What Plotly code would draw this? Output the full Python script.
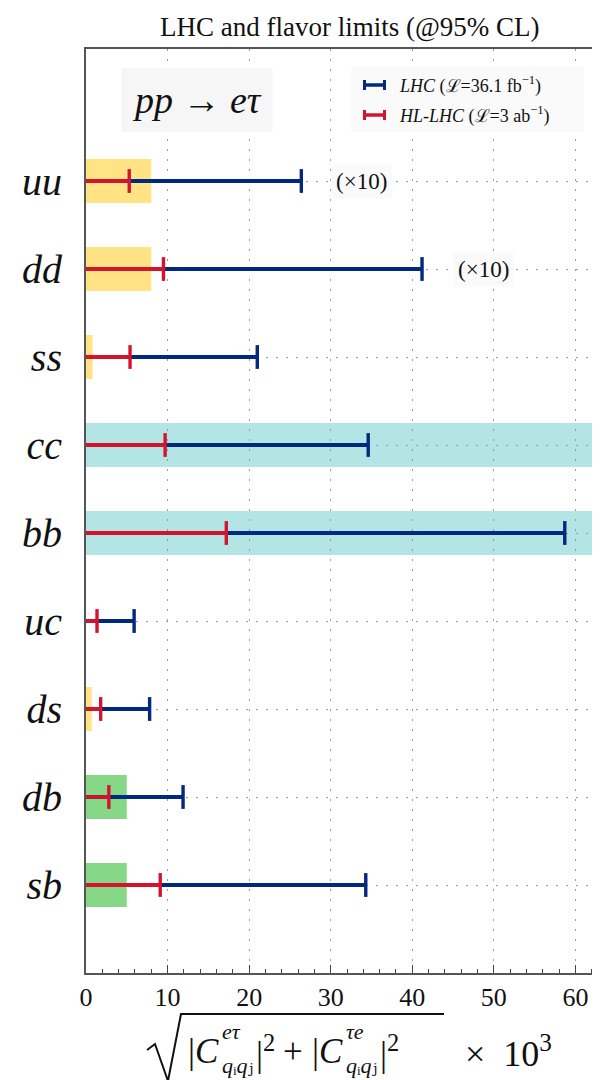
import plotly.graph_objects as go

# ---------------- data ----------------
categories = ["uu", "dd", "ss", "cc", "bb", "uc", "ds", "db", "sb"]
positions = [9, 8, 7, 6, 5, 4, 3, 2, 1]
lhc_limits = [26.4, 41.2, 21.0, 34.6, 58.7, 5.9, 7.8, 11.9, 34.3]
hllhc_limits = [5.3, 9.5, 5.4, 9.7, 17.2, 1.35, 1.8, 2.8, 9.1]
flavor_limits = [8.0, 8.0, 0.8, 70.0, 70.0, 0.0, 0.7, 5.0, 5.0]
flavor_kind = ["y", "y", "y", "c", "c", "none", "y", "g", "g"]
scaled_note = ["(×10)", "(×10)", "", "", "", "", "", "", ""]
note_x = [33.8, 48.7, None, None, None, None, None, None, None]
x_ticks = [0, 10, 20, 30, 40, 50, 60]

BLUE = "#00297F"
RED = "#D3142E"
BAND = {"y": "#FFE384", "c": "#B3E5E4", "g": "#86D886"}
SERIF = "Liberation Serif, DejaVu Serif, serif"
INK = "#111111"

# plot area in pixels
L, R, T, B = 78, 600, 41, 965
def px(x):
    return (x - L) / (R - L)
def py(y):
    return (B - y) / (B - T)

fig = go.Figure()

def seg_xy(vals):
    xs, ys = [], []
    for v, p in zip(vals, positions):
        xs += [0, v, None]
        ys += [p, p, None]
    return xs, ys

bx, by = seg_xy(lhc_limits)
fig.add_trace(go.Scatter(x=bx, y=by, mode="lines", line=dict(color=BLUE, width=3.8),
                         showlegend=False, hoverinfo="skip"))
fig.add_trace(go.Scatter(x=lhc_limits, y=positions, mode="markers",
                         marker=dict(symbol="line-ns", size=17, line=dict(color=BLUE, width=3.4)),
                         showlegend=False, hoverinfo="skip"))
rx, ry = seg_xy(hllhc_limits)
fig.add_trace(go.Scatter(x=rx, y=ry, mode="lines", line=dict(color=RED, width=3.8),
                         showlegend=False, hoverinfo="skip"))
fig.add_trace(go.Scatter(x=hllhc_limits, y=positions, mode="markers",
                         marker=dict(symbol="line-ns", size=17, line=dict(color=RED, width=3.4)),
                         showlegend=False, hoverinfo="skip"))

shapes = []
for v, p, k in zip(flavor_limits, positions, flavor_kind):
    if k == "none" or v <= 0:
        continue
    shapes.append(dict(type="rect", xref="x", yref="y", x0=0, x1=v, y0=p - 0.25, y1=p + 0.25,
                       fillcolor=BAND[k], line=dict(width=0), layer="below"))

annotations = []
for n, xv, p in zip(scaled_note, note_x, positions):
    if n:
        annotations.append(dict(x=xv, y=p, xref="x", yref="y", text=n, showarrow=False,
                                xanchor="center", yanchor="middle",
                                font=dict(family=SERIF, size=23, color=INK),
                                bgcolor="#FAFAFA", borderpad=4))

def ann(x, y, text, size, xanchor="left", **kw):
    d = dict(x=px(x), y=py(y), xref="paper", yref="paper", text=text, showarrow=False,
             xanchor=xanchor, yanchor="middle", font=dict(family=SERIF, size=size, color=INK))
    d.update(kw)
    annotations.append(d)

# title
ann(342, 19, "LHC and flavor limits (@95% CL)", 27, xanchor="center")

# process label box
ann(189, 92, "<i>pp</i> → <i>eτ</i>", 38, xanchor="center", bgcolor="#F6F6F6", borderpad=10)

# manual legend
shapes.append(dict(type="rect", xref="paper", yref="paper", x0=px(343), x1=px(576),
                   y0=py(124), y1=py(59), fillcolor="#FAFAFA", line=dict(width=0), layer="above"))
for yy, col in [(77, BLUE), (107, RED)]:
    shapes.append(dict(type="line", xref="paper", yref="paper", x0=px(355), x1=px(378),
                       y0=py(yy), y1=py(yy), line=dict(color=col, width=3.5), layer="above"))
    for xx in (356.5, 376.5):
        shapes.append(dict(type="line", xref="paper", yref="paper", x0=px(xx), x1=px(xx),
                           y0=py(yy - 5), y1=py(yy + 5), line=dict(color=col, width=3), layer="above"))
ann(389, 77, "<i>LHC</i> (ℒ=36.1 fb<sup>−1</sup>)", 18)
ann(389, 107, "<i>HL-LHC</i> (ℒ=3 ab<sup>−1</sup>)", 18)

# x-axis label: sqrt(|C^{eτ}_{qiqj}|^2 + |C^{τe}_{qiqj}|^2) x 10^3
MAIN, SCR = 35, 22
yb, ysup, ysub = 1043, 1023, 1057
ann(178, yb, "|<i>C</i>", MAIN)
ann(212, ysup, "<i>eτ</i>", SCR)
ann(212, ysub, "<i>q</i>ᵢ<i>q</i>ⱼ", SCR)
ann(246, yb, "|<sup>2</sup>", MAIN)
ann(273, yb, "+", MAIN)
ann(302, yb, "|<i>C</i>", MAIN)
ann(336, ysup, "<i>τe</i>", SCR)
ann(336, ysub, "<i>q</i>ᵢ<i>q</i>ⱼ", SCR)
ann(370, yb, "|<sup>2</sup>", MAIN)
ann(455, yb, "×  10<sup>3</sup>", 36)
path = "M {},{} L {},{} L {},{} L {},{} L {},{}".format(
    px(139), py(1042), px(147), py(1036), px(160), py(1073), px(173), py(1006), px(436), py(1006))
shapes.append(dict(type="path", xref="paper", yref="paper", path=path,
                   line=dict(color=INK, width=2), layer="above"))

fig.update_layout(
    width=600, height=1080,
    margin=dict(l=L, r=0, t=T, b=1080 - B, autoexpand=False),
    paper_bgcolor="white", plot_bgcolor="white",
    shapes=shapes, annotations=annotations, showlegend=False,
)
fig.update_xaxes(
    range=[0, 64], tickvals=x_ticks, ticktext=[str(t) for t in x_ticks],
    ticks="inside", ticklen=8, tickwidth=1, tickcolor="#444",
    minor=dict(dtick=2, tick0=0, ticks="inside", ticklen=4, tickcolor="#444", showgrid=False),
    showline=True, linecolor="#555", linewidth=2, mirror=True,
    showgrid=True, gridcolor="#9A9A9A", gridwidth=1.2, griddash="2px,8px",
    tickfont=dict(family=SERIF, size=26, color=INK), zeroline=False, fixedrange=True,
    automargin=False,
)
fig.update_yaxes(
    range=[0, 10.5], tickvals=positions, ticktext=["<i>%s</i>" % c for c in categories],
    ticks="", showline=True, linecolor="#555", linewidth=2, mirror=False,
    showgrid=True, gridcolor="#9A9A9A", gridwidth=1.2, griddash="2px,8px",
    tickfont=dict(family=SERIF, size=40, color=INK), ticklabelstandoff=14,
    zeroline=False, fixedrange=True, automargin=False,
)

fig.write_html("out.html")
